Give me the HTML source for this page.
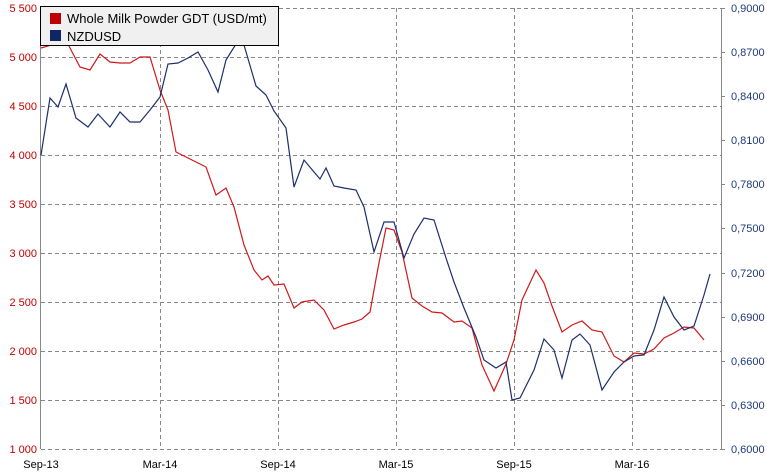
<!DOCTYPE html>
<html><head><meta charset="utf-8"><style>
body{margin:0;background:#fff;}
svg{display:block;font-family:"Liberation Sans",sans-serif;}
</style></head><body>
<svg width="767" height="472" viewBox="0 0 767 472" xmlns="http://www.w3.org/2000/svg">
<g stroke="#888" stroke-width="1" stroke-dasharray="4,3" fill="none">
<line x1="41" y1="8.5" x2="721" y2="8.5"/>
<line x1="41" y1="57.5" x2="721" y2="57.5"/>
<line x1="41" y1="106.5" x2="721" y2="106.5"/>
<line x1="41" y1="155.5" x2="721" y2="155.5"/>
<line x1="41" y1="204.5" x2="721" y2="204.5"/>
<line x1="41" y1="253.5" x2="721" y2="253.5"/>
<line x1="41" y1="302.5" x2="721" y2="302.5"/>
<line x1="41" y1="351.5" x2="721" y2="351.5"/>
<line x1="41" y1="400.5" x2="721" y2="400.5"/>
<line x1="41" y1="449.5" x2="721" y2="449.5"/>
<line x1="160.5" y1="8" x2="160.5" y2="449"/>
<line x1="278.5" y1="8" x2="278.5" y2="449"/>
<line x1="396.5" y1="8" x2="396.5" y2="449"/>
<line x1="514.5" y1="8" x2="514.5" y2="449"/>
<line x1="632.5" y1="8" x2="632.5" y2="449"/>
</g>
<g stroke="#888" stroke-width="1">
<line x1="40.5" y1="8" x2="40.5" y2="449"/>
<line x1="721.5" y1="8" x2="721.5" y2="449"/>
<line x1="721" y1="8.5" x2="725" y2="8.5"/><line x1="721" y1="52.5" x2="725" y2="52.5"/>
<line x1="721" y1="96.5" x2="725" y2="96.5"/><line x1="721" y1="140.5" x2="725" y2="140.5"/>
<line x1="721" y1="184.5" x2="725" y2="184.5"/><line x1="721" y1="228.5" x2="725" y2="228.5"/>
<line x1="721" y1="273.5" x2="725" y2="273.5"/><line x1="721" y1="317.5" x2="725" y2="317.5"/>
<line x1="721" y1="361.5" x2="725" y2="361.5"/><line x1="721" y1="405.5" x2="725" y2="405.5"/>
<line x1="721" y1="449.5" x2="725" y2="449.5"/>
</g>
<g fill="#c00000" font-size="11" text-anchor="end">
<text x="37" y="12">5 500</text><text x="37" y="61">5 000</text><text x="37" y="110">4 500</text>
<text x="37" y="159">4 000</text><text x="37" y="208">3 500</text><text x="37" y="257">3 000</text>
<text x="37" y="306">2 500</text><text x="37" y="355">2 000</text><text x="37" y="404">1 500</text>
<text x="37" y="453">1 000</text>
</g>
<g fill="#1f3a7a" font-size="11">
<text x="731" y="12">0,9000</text><text x="731" y="56">0,8700</text><text x="731" y="100">0,8400</text>
<text x="731" y="144">0,8100</text><text x="731" y="188">0,7800</text><text x="731" y="232">0,7500</text>
<text x="731" y="277">0,7200</text><text x="731" y="321">0,6900</text><text x="731" y="365">0,6600</text>
<text x="731" y="409">0,6300</text><text x="731" y="453">0,6000</text>
</g>
<g fill="#000" font-size="11" text-anchor="middle">
<text x="41" y="468">Sep-13</text><text x="160" y="468">Mar-14</text><text x="278" y="468">Sep-14</text>
<text x="396" y="468">Mar-15</text><text x="514" y="468">Sep-15</text><text x="632" y="468">Mar-16</text>
</g>
<polyline fill="none" stroke="#d0191b" stroke-width="1.2" points="41,48 55,44 64,36 70,48 80,67 90,70 100,54 110,62 120,63 130,63 140,57 150,57 160,90 168,110 176,152 186,157 196,162 206,167 216,195 226,188 234,207 244,245 254,270 262,280 268,276 274,285 284,284 294,308 302,302 314,300 324,310 334,329 344,325 354,322 362,319 370,312 378,268 386,228 394,230 402,252 412,298 422,306 432,312 442,313 454,322 462,321 472,328 482,365 494,391 506,364 514,340 522,300 536,270 544,283 552,306 562,332 572,325 582,321 592,330 602,332 614,356 624,362 634,353 644,354 654,349 664,338 674,333 684,327 694,328 704,340"/>
<polyline fill="none" stroke="#1c2f6b" stroke-width="1.2" points="41,155 50,98 58,107 66,84 76,118 88,127 98,114 110,127 120,112 130,122 140,122 150,110 160,97 168,64 178,63 188,58 198,52 208,70 218,92 226,60 236,44 244,45 256,86 266,95 274,111 286,128 294,187 304,160 314,172 320,179 326,168 334,186 344,188 356,190 364,207 374,252 384,222 394,222 404,258 414,234 424,218 434,220 446,258 454,282 464,308 476,337 484,360 496,368 506,362 512,400 520,398 534,370 544,339 554,350 562,378 572,340 580,334 590,345 602,390 614,372 624,362 634,356 644,355 654,330 664,297 674,317 684,330 694,326 704,295 710,274"/>
<rect x="40.5" y="6.5" width="238" height="39" fill="#f0f0f0" stroke="#000" stroke-width="1"/>
<rect x="50" y="13" width="11" height="11" fill="#c00000"/>
<rect x="50" y="30" width="11" height="11" fill="#0f2566"/>
<g font-size="13" fill="#000">
<text x="67" y="23">Whole Milk Powder GDT (USD/mt)</text>
<text x="67" y="41">NZDUSD</text>
</g>
</svg>
</body></html>
